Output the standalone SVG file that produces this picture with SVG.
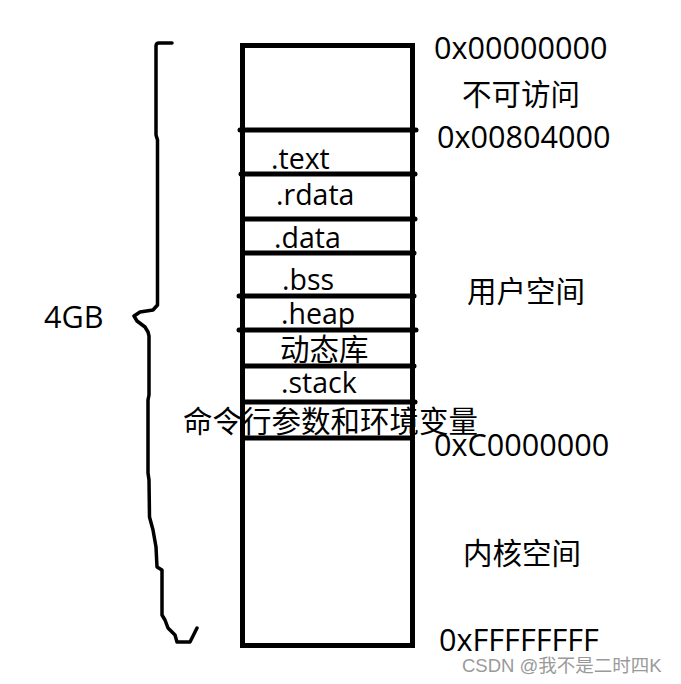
<svg xmlns="http://www.w3.org/2000/svg" width="681" height="684" viewBox="0 0 681 684">
<style>
text{font-family:"Open Sans","Noto Sans CJK SC",sans-serif;fill:#000;}
.lbl{font-size:28.5px;}
.addr{font-size:30.6px;}
.cjk{font-size:29.5px;font-family:"Noto Sans CJK SC",sans-serif;}
.ln{stroke:#000;stroke-width:5;stroke-linecap:round;fill:none;}
.brace{stroke:#000;stroke-width:3.5;fill:none;stroke-linejoin:round;stroke-linecap:round;}
.wm{font-size:18.5px;fill:#9a9a9a;font-family:"Liberation Sans","Noto Sans CJK SC",sans-serif;}
</style>
<rect width="681" height="684" fill="#fff"/>
<g id="brace">
<path class="brace" d="M172,43 L159,43 Q156,43 156,46 L156,135 L157.5,140 L157.5,305 L153,310 L140,312 L134,316 L137,321 L145,327 L148,332 L149,336 L149,395 L148,400 L148,473 L149,480 L149.5,517 L153,530 L156,547 L157,567 L162,570 L162,615 L165,620 L168,628 L175,635 L177,642 L190,642 L197,628"/>
</g>
<g id="memory-box">
<rect class="ln" x="242.5" y="45.5" width="170" height="600"/>
</g>
<g id="dividers">
<line class="ln" x1="240" y1="130" x2="416" y2="130"/>
<line class="ln" x1="241" y1="174" x2="415" y2="174"/>
<line class="ln" x1="243" y1="219" x2="415" y2="219"/>
<line class="ln" x1="244" y1="253" x2="414" y2="253"/>
<line class="ln" x1="239" y1="296" x2="414" y2="296"/>
<line class="ln" x1="239" y1="330" x2="416" y2="330"/>
<line class="ln" x1="243" y1="366" x2="414" y2="366"/>
<line class="ln" x1="244" y1="402" x2="415" y2="402"/>
<line class="ln" x1="244" y1="438" x2="412" y2="438"/>
</g>
<g id="sections">
<text class="lbl" x="271" y="169">.text</text>
<text class="lbl" x="276" y="205">.rdata</text>
<text class="lbl" x="274" y="248">.data</text>
<text class="lbl" x="282" y="290">.bss</text>
<text class="lbl" x="281" y="324">.heap</text>
<text class="cjk" x="280" y="360">动态库</text>
<text class="lbl" x="281" y="393">.stack</text>
<text class="cjk" x="183" y="432">命令行参数和环境变量</text>
</g>
<g id="labels">
<text class="addr" x="434" y="59">0x00000000</text>
<text class="cjk" x="462" y="105">不可访问</text>
<text class="addr" x="437" y="148">0x00804000</text>
<text class="cjk" x="467" y="302">用户空间</text>
<text class="addr" x="434" y="456">0xC0000000</text>
<text class="cjk" x="463" y="564">内核空间</text>
<text class="addr" x="439" y="651">0xFFFFFFFF</text>
<text class="addr" x="44" y="328">4GB</text>
<text class="wm" x="462" y="672">CSDN @我不是二时四K</text>
</g>
</svg>
